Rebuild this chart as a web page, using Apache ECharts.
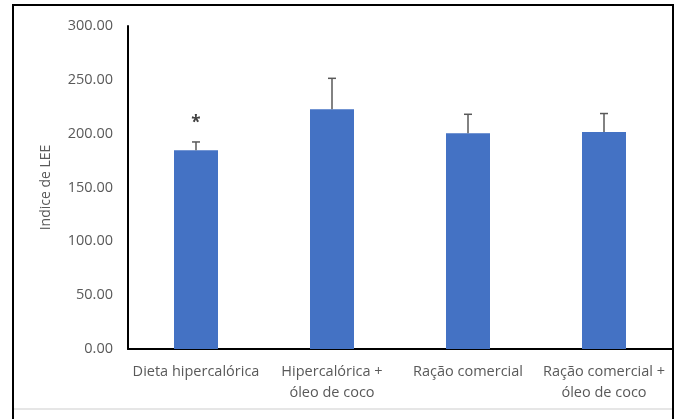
<!DOCTYPE html>
<html>
<head>
<meta charset="utf-8">
<script src="https://cdn.jsdelivr.net/npm/echarts@6/dist/echarts.min.js"></script>
<style>html,body{margin:0;padding:0;background:#fff;}#c{width:678px;height:419px;}</style>
</head>
<body>
<div id="c"></div>
<script>
const categories = ['Dieta hipercalórica', 'Hipercalórica +\nóleo de coco', 'Ração comercial', 'Ração comercial +\nóleo de coco'];
const values = [184.5, 222.6, 200.3, 201.5];
const errorUpper = [192.3, 251.4, 218.0, 218.7];
const annotations = ['*', '', '', ''];
const yTicks = [0, 50, 100, 150, 200, 250, 300];
const yAxisName = 'Indice de LEE';

const chart = echarts.init(document.getElementById('c'), null, {renderer: 'canvas'});
const textColor = '#595959';
const font = '"Open Sans", "Liberation Sans", sans-serif';

chart.setOption({
  animation: false,
  backgroundColor: '#fff',
  graphic: [
    {type: 'rect', shape: {x: 13, y: 5, width: 660, height: 440}, style: {fill: 'none', stroke: '#000', lineWidth: 2}, z: 100},
    {type: 'line', shape: {x1: 14, y1: 409, x2: 672, y2: 409}, style: {stroke: '#e6e6e6', lineWidth: 2}, z: 100}
  ],
  grid: {left: 128, right: 6, top: 26, bottom: 70, containLabel: false},
  xAxis: {
    type: 'category',
    data: categories,
    axisLine: {show: true, lineStyle: {color: '#000', width: 2}},
    axisTick: {show: false},
    axisLabel: {color: textColor, fontFamily: font, fontSize: 14.5, margin: 12, lineHeight: 21, interval: 0}
  },
  yAxis: {
    type: 'value',
    min: yTicks[0],
    max: yTicks[yTicks.length - 1],
    interval: yTicks[1] - yTicks[0],
    name: yAxisName,
    nameLocation: 'middle',
    nameRotate: 90,
    nameGap: 75,
    nameTextStyle: {color: textColor, fontFamily: font, fontSize: 14},
    axisLine: {show: true, lineStyle: {color: '#000', width: 2}},
    axisTick: {show: false},
    splitLine: {show: false},
    axisLabel: {color: textColor, fontFamily: font, fontSize: 14.5, margin: 15, formatter: v => v.toFixed(2)}
  },
  series: [
    {
      type: 'bar',
      data: values,
      barWidth: 44,
      itemStyle: {color: '#4472C4'},
      z: 2
    },
    {
      type: 'custom',
      z: 3,
      data: values.map((v, i) => [i, v, errorUpper[i]]),
      renderItem: function (params, api) {
        const i = api.value(0);
        const lo = api.coord([i, api.value(1)]);
        const hi = api.coord([i, api.value(2)]);
        const hw = 4;
        const children = [
          {type: 'line', shape: {x1: lo[0], y1: lo[1], x2: hi[0], y2: hi[1]}, style: {stroke: '#595959', lineWidth: 1.5}},
          {type: 'line', shape: {x1: hi[0] - hw, y1: hi[1], x2: hi[0] + hw, y2: hi[1]}, style: {stroke: '#595959', lineWidth: 1.5}}
        ];
        const t = annotations[params.dataIndex];
        if (t) {
          children.push({type: 'text', style: {text: t, x: hi[0], y: hi[1] - 19, align: 'center', verticalAlign: 'middle', fill: '#404040', font: 'bold 17px ' + font}});
        }
        return {type: 'group', children: children};
      }
    }
  ]
});
</script>
</body>
</html>
